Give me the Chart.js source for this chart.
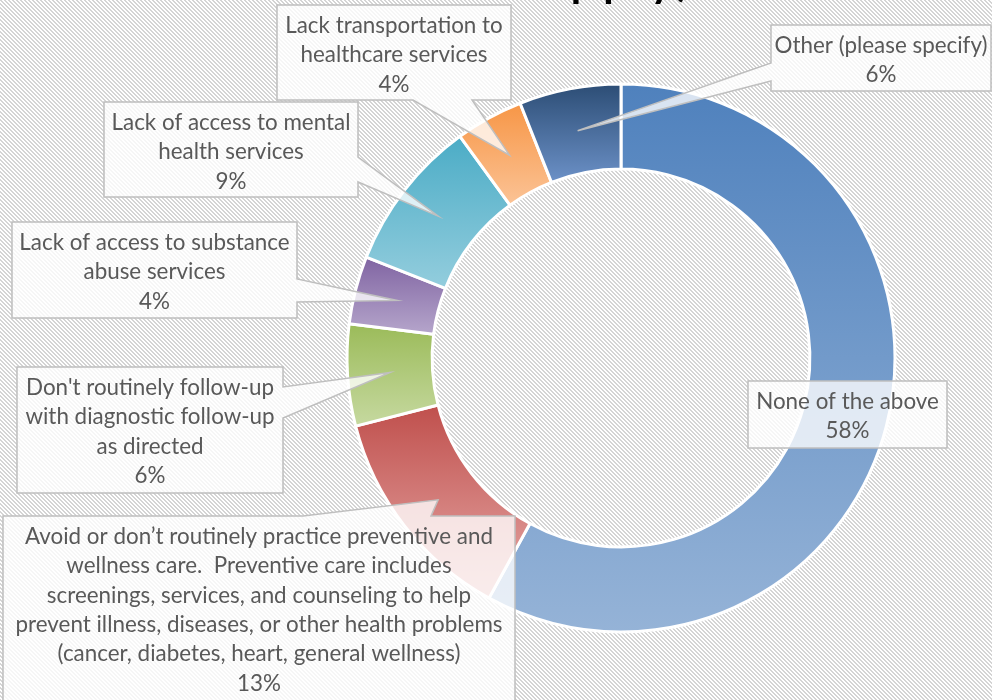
<!DOCTYPE html>
<html>
<head>
<meta charset="utf-8">
<title>Barriers to care</title>
<script src="https://cdn.jsdelivr.net/npm/chart.js@4.4.0/dist/chart.umd.min.js"></script>
<style>
  html, body { margin: 0; padding: 0; background: #fff; }
  #wrap { width: 992px; height: 700px; position: relative; }
</style>
</head>
<body>
<div id="wrap"><canvas id="barrierChart"></canvas></div>
<script>
// answers, in drawing order (clockwise from 12 o'clock)
const categories = [
  "None of the above",
  "Avoid or don\u2019t routinely practice preventive and wellness care.  Preventive care includes screenings, services, and counseling to help prevent illness, diseases, or other health problems (cancer, diabetes, heart, general wellness)",
  "Don't routinely follow-up with diagnostic follow-up as directed",
  "Lack of access to substance abuse services",
  "Lack of access to mental health services",
  "Lack transportation to healthcare services",
  "Other (please specify)"
];
const percents = [58, 13, 6, 4, 9, 4, 6];

// how each category name wraps inside its callout
const wrappedNames = [
  ["None of the above"],
  ["Avoid or don\u2019t routinely practice preventive and",
   "wellness care.  Preventive care includes",
   "screenings, services, and counseling to help",
   "prevent illness, diseases, or other health problems",
   "(cancer, diabetes, heart, general wellness)"],
  ["Don't routinely follow-up", "with diagnostic follow-up", "as directed"],
  ["Lack of access to substance", "abuse services"],
  ["Lack of access to mental", "health services"],
  ["Lack transportation to", "healthcare services"],
  ["Other (please specify)"]
];

const topColors    = ["#4f81bd", "#c0504d", "#9bbb59", "#8064a2", "#4bacc6", "#f79646", "#2c4d75"];
const bottomColors = ["#95b3d7", "#e6aaa8", "#c6d9a0", "#b5a5cb", "#93cddd", "#fbc294", "#6a8fc5"];

// callout boxes; the pointer leaves the box on `side` between `from` and `to`
const callouts = [
  { x: 748, y: 381, w: 199, h: 67, side: null },
  { x: 3,   y: 516, w: 512, h: 200, side: "top",    from: 303, to: 431 },
  { x: 17,  y: 367, w: 266, h: 126, side: "right",  from: 387, to: 418 },
  { x: 12,  y: 222, w: 285, h: 96,  side: "right",  from: 279, to: 302 },
  { x: 104, y: 102, w: 254, h: 95,  side: "right",  from: 157, to: 182 },
  { x: 277, y: 5,   w: 234, h: 95,  side: "bottom", from: 413, to: 472 },
  { x: 771, y: 25,  w: 220, h: 66,  side: "left",   from: 63,  to: 81 }
];

const OUTER = 274, INNER = 192;
const FONT = "Lato, 'Open Sans', sans-serif";

// vertical gradient spanning each slice's own height
function sliceFill(ctx) {
  const chart = ctx.chart, i = ctx.dataIndex;
  const area = chart.chartArea;
  if (!area) return topColors[i];
  const cy = (area.top + area.bottom) / 2;
  const total = percents.reduce((a, b) => a + b, 0);
  const before = percents.slice(0, i).reduce((a, b) => a + b, 0);
  const a0 = -Math.PI / 2 + before / total * 2 * Math.PI;
  const a1 = a0 + percents[i] / total * 2 * Math.PI;
  let minY = Infinity, maxY = -Infinity;
  for (let k = 0; k <= 80; k++) {
    const a = a0 + (a1 - a0) * k / 80;
    for (const r of [INNER, OUTER]) {
      const y = cy + r * Math.sin(a);
      minY = Math.min(minY, y);
      maxY = Math.max(maxY, y);
    }
  }
  const g = chart.ctx.createLinearGradient(0, minY, 0, maxY);
  g.addColorStop(0, topColors[i]);
  g.addColorStop(1, bottomColors[i]);
  return g;
}

// striped backdrop behind everything
const hatchBackground = {
  id: "hatchBackground",
  beforeDraw(chart) {
    const tile = document.createElement("canvas");
    tile.width = 8; tile.height = 8;
    const t = tile.getContext("2d");
    t.fillStyle = "#ffffff";
    t.fillRect(0, 0, 8, 8);
    t.fillStyle = "#d4d4d4";
    for (let y = 0; y < 8; y++) {
      for (let x = 0; x < 8; x++) {
        if (((x - y) % 4 + 4) % 4 < 2) t.fillRect(x, y, 1, 1);
      }
    }
    const ctx = chart.ctx;
    ctx.save();
    ctx.fillStyle = ctx.createPattern(tile, "repeat");
    ctx.fillRect(0, 0, chart.width, chart.height);
    // title, mostly above the visible area
    ctx.fillStyle = "#000";
    ctx.font = "58px " + FONT;
    ctx.textAlign = "right";
    ctx.textBaseline = "alphabetic";
    ctx.fillText("that apply)", 692, -6);
    ctx.restore();
  }
};

function calloutPath(ctx, b, tip) {
  const r = b.x + b.w, btm = b.y + b.h;
  ctx.beginPath();
  ctx.moveTo(b.x, b.y);
  if (b.side === "top") { ctx.lineTo(b.from, b.y); ctx.lineTo(tip.x, tip.y); ctx.lineTo(b.to, b.y); }
  ctx.lineTo(r, b.y);
  if (b.side === "right") { ctx.lineTo(r, b.from); ctx.lineTo(tip.x, tip.y); ctx.lineTo(r, b.to); }
  ctx.lineTo(r, btm);
  if (b.side === "bottom") { ctx.lineTo(b.to, btm); ctx.lineTo(tip.x, tip.y); ctx.lineTo(b.from, btm); }
  ctx.lineTo(b.x, btm);
  if (b.side === "left") { ctx.lineTo(b.x, b.to); ctx.lineTo(tip.x, tip.y); ctx.lineTo(b.x, b.from); }
  ctx.closePath();
}

// data labels drawn as callouts pointing at each slice's centre
const calloutLabels = {
  id: "calloutLabels",
  afterDatasetsDraw(chart) {
    const ctx = chart.ctx;
    const arcs = chart.getDatasetMeta(0).data;
    ctx.save();
    arcs.forEach((arc, i) => {
      const b = callouts[i];
      const tip = arc.getCenterPoint();
      calloutPath(ctx, b, tip);
      ctx.fillStyle = "rgba(255,255,255,0.78)";
      ctx.fill();
      ctx.strokeStyle = "#bfbfbf";
      ctx.lineWidth = 1.5;
      ctx.stroke();

      const lines = wrappedNames[i].concat([percents[i] + "%"]);
      ctx.fillStyle = "#595959";
      ctx.font = "22.4px " + FONT;
      ctx.textAlign = "center";
      ctx.textBaseline = "middle";
      const cx = b.x + b.w / 2;
      lines.forEach((ln, k) => ctx.fillText(ln, cx, b.y + 20.5 + k * 29.4));
    });
    ctx.restore();
  }
};

new Chart(document.getElementById("barrierChart"), {
  type: "doughnut",
  data: {
    labels: categories,
    datasets: [{
      data: percents,
      backgroundColor: sliceFill,
      borderColor: "#ffffff",
      borderWidth: 3
    }]
  },
  options: {
    responsive: true,
    maintainAspectRatio: false,
    animation: false,
    radius: OUTER,
    cutout: INNER,
    layout: { padding: { left: 341, right: 91, top: 78, bottom: 62 } },
    plugins: {
      legend: { display: false },
      title: { display: false },
      tooltip: { enabled: false }
    }
  },
  plugins: [hatchBackground, calloutLabels]
});
</script>
</body>
</html>
